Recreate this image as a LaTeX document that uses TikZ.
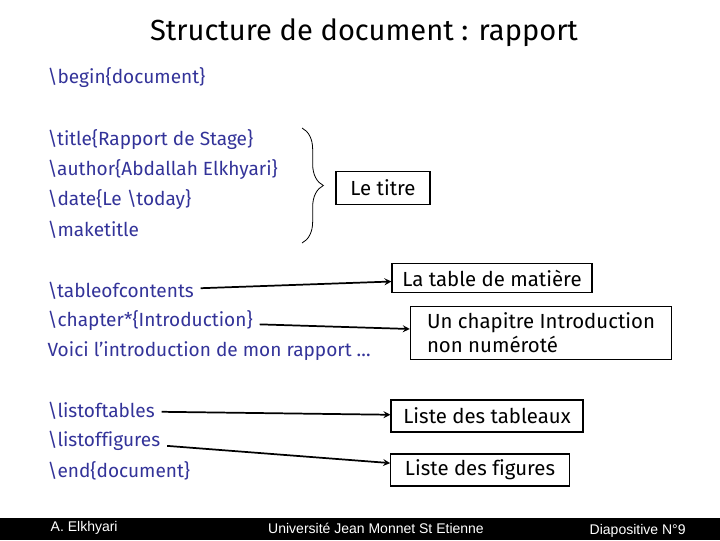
\documentclass[tikz,border=0pt]{standalone}
\usepackage{fontspec}
\setmainfont{Fira Sans}[Ligatures=NoCommon]
\newfontfamily\footfont{Liberation Sans}
\usepackage{tikz}
\usetikzlibrary{arrows,positioning,decorations.pathreplacing}
\definecolor{codecolor}{RGB}{51,51,153}

\begin{document}
\begin{tikzpicture}[
    x=0.75pt, y=-0.75pt,
    code/.style={anchor=west, inner sep=1pt, text=codecolor, font=\fontsize{14.3}{16}\selectfont},
    result/.style={rectangle, draw, line width=0.8pt, align=left, font=\fontsize{15.3}{18}\selectfont},
    arrow/.style={->, >=stealth, line width=1.3pt, shorten <=4pt}
]
    \useasboundingbox (0,0) rectangle (720,540);
    \node[font=\fontsize{21.8}{26}\selectfont] (titre) at (364,33) {Structure de document : rapport};

    % lignes du source
    \node[code] (begin) at (46,78) {\textbackslash begin\{document\}};
    \node[code] (title) at (46,140) {\textbackslash title\{Rapport de Stage\}};
    \node[code] (author) at (46,170) {\textbackslash author\{Abdallah Elkhyari\}};
    \node[code] (date) at (46,200) {\textbackslash date\{Le \textbackslash today\}};
    \node[code] (maketitle) at (46,230) {\textbackslash maketitle};
    \node[code] (toc) at (46,291) {\textbackslash tableofcontents};
    \node[code] (chapter) at (46,321) {\textbackslash chapter*\{Introduction\}};
    \node[code] (voici) at (46,351) {Voici l’introduction de mon rapport …};
    \node[code] (lot) at (46,411) {\textbackslash listoftables};
    \node[code] (lof) at (46,441) {\textbackslash listoffigures};
    \node[code] (end) at (46,471) {\textbackslash end\{document\}};

    % ce que cela donne
    \node[result, minimum width=70.5pt, minimum height=25pt] (letitre) at (383,188) {Le titre};
    \node[result, minimum width=150pt, minimum height=22pt] (tdm) at (492,278) {La table de matière};
    \node[result, minimum width=196pt, minimum height=40pt] (intro) at (541,333) {Un chapitre Introduction\\non numéroté};
    \node[result, minimum width=144pt, minimum height=24pt] (tableaux) at (487,416) {Liste des tableaux};
    \node[result, minimum width=134pt, minimum height=24pt] (figures) at (480,470) {Liste des figures};

    \draw[decorate, decoration={brace, amplitude=16pt}, line width=0.6pt] (302,128) -- (302,243);

    \draw[arrow] (toc) -- (tdm);
    \draw[arrow] (chapter) -- (intro);
    \draw[arrow] (lot) -- (tableaux);
    \draw[arrow] (lof) -- (figures);

    % pied de page
    \fill[black] (0,518) rectangle (720,540);
    \node[anchor=west, text=white, font=\footfont\fontsize{10.5}{12}\selectfont] (auteur) at (46,528) {A. Elkhyari};
    \node[text=white, font=\footfont\fontsize{10.5}{12}\selectfont] (univ) at (376,528) {Université Jean Monnet St Etienne};
    \node[anchor=west, text=white, font=\footfont\fontsize{10.5}{12}\selectfont] (diapo) at (585,531) {Diapositive N°9};
\end{tikzpicture}
\end{document}
